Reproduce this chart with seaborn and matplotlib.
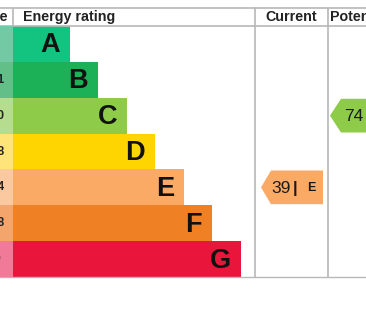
import numpy as np
import pandas as pd
import matplotlib
matplotlib.use("Agg")
import matplotlib.pyplot as plt
from matplotlib.patches import Polygon
import seaborn as sns

# ---- data ----
bands = ["A", "B", "C", "D", "E", "F", "G"]
score_ranges = ["92+", "81-91", "69-80", "55-68", "39-54", "21-38", "1-20"]
band_lower = [92, 81, 69, 55, 39, 21, 1]
bar_ends = [70, 98, 127, 155, 184, 212, 241]   # bar lengths (chart units)
band_colors = ["#12c47f", "#1cb157", "#8dcb48", "#ffd500", "#fbaa65", "#ef8023", "#e9153b"]
tint_colors = ["#72c9a3", "#62bf88", "#b6dc8e", "#ffe47a", "#fbc9a0", "#f4a56c", "#f07a98"]
current_rating = 39
potential_rating = 74
headers = ["Score", "Energy rating", "Current", "Potential"]


def band_index(r):
    for i, lo in enumerate(band_lower):
        if r >= lo:
            return i
    return len(bands) - 1


sns.set_theme(style="white")
plt.rcParams["font.family"] = ["Liberation Sans", "DejaVu Sans"]

fig = plt.figure(figsize=(3.66, 3.11), dpi=100)
ax = fig.add_axes([0, 0, 1, 1])

df = pd.DataFrame({"band": bands, "end": bar_ends})
sns.barplot(data=df, x="end", y="band", hue="band", palette=band_colors,
            saturation=1, width=1.0, linewidth=0, legend=False, orient="h", ax=ax)

ax.set_xlim(0, 366)
ax.set_ylim(7.448, -1.225)
ax.axis("off")

# tinted score column
for i, c in enumerate(tint_colors):
    ax.add_patch(plt.Rectangle((0, i - 0.5), 13, 1, color=c, lw=0, zorder=3))
    ax.text(-10.5, i, score_ranges[i], ha="center", va="center", fontsize=8.5,
            fontweight="bold", color="#222222", zorder=4, clip_on=True)

# band letters
for i, (b, e) in enumerate(zip(bands, bar_ends)):
    ax.text(e - 10, i + 0.04, b, ha="right", va="center", fontsize=19.5,
            fontweight="bold", color="#111111", zorder=4)

# grid lines
gc = "#b8b8b8"
ax.plot([0, 366], [-1.0, -1.0], color=gc, lw=1.2, zorder=2)
ax.plot([0, 366], [-0.5, -0.5], color=gc, lw=1.2, zorder=2)
ax.plot([0, 366], [6.51, 6.51], color=gc, lw=1.0, zorder=1)
ax.plot([13, 13], [-1.0, -0.5], color=gc, lw=1.2, zorder=2)
for xv in (255, 327.5):
    ax.plot([xv, xv], [-1.0, 6.51], color=gc, lw=1.2, zorder=2)

# headers
hy = -0.75
hfs = 10.3
ax.text(8, hy, headers[0], ha="right", va="center", fontsize=hfs, fontweight="bold", color="#222222")
ax.text(23, hy, headers[1], ha="left", va="center", fontsize=hfs, fontweight="bold", color="#222222")
ax.text(291, hy, headers[2], ha="center", va="center", fontsize=hfs, fontweight="bold", color="#222222")
ax.text(330, hy, headers[3], ha="left", va="center", fontsize=hfs, fontweight="bold", color="#222222")


def arrow(x_tip, x_body, x_right, rating, text_x):
    i = band_index(rating)
    h = 0.47
    col = band_colors[i]
    poly = Polygon([[x_tip, i], [x_body, i - h], [x_right, i - h], [x_right, i + h], [x_body, i + h]],
                   closed=True, facecolor=col, edgecolor="none", zorder=3)
    ax.add_patch(poly)
    ax.text(text_x, i + 0.03, f"{rating}", ha="left", va="center", fontsize=12.5,
            color="#1a1a1a", zorder=4)
    ax.text(text_x + 21.5, i + 0.02, "|", ha="left", va="center", fontsize=12,
            fontweight="bold", color="#1a1a1a", zorder=4)
    ax.text(text_x + 36, i + 0.03, bands[i], ha="left", va="center", fontsize=9,
            fontweight="bold", color="#1a1a1a", zorder=4)


arrow(261, 271, 323, current_rating, 271)
arrow(330, 341, 380, potential_rating, 344)

fig.savefig("out.png", dpi=100)
